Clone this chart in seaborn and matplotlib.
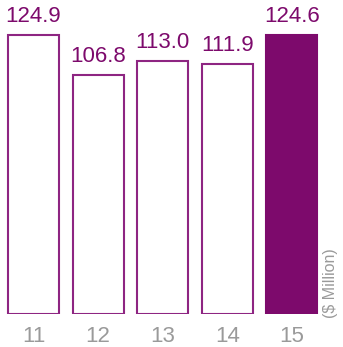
import matplotlib
matplotlib.use("Agg")
import matplotlib.pyplot as plt
import seaborn as sns
import pandas as pd

years = ["11", "12", "13", "14", "15"]
values = [124.9, 106.8, 113.0, 111.9, 124.6]
labels = ["124.9", "106.8", "113.0", "111.9", "124.6"]

sns.set_theme(style="white")
plt.rcParams['font.family'] = ['Liberation Sans Narrow', 'Liberation Sans', 'DejaVu Sans']

purple = "#7D0A6C"
edge = "#8E2582"
gray = "#9A9A9A"

df = pd.DataFrame({"year": years, "value": values})

fig = plt.figure(figsize=(3.43, 3.47), dpi=100)
ax = fig.add_axes([1.25/343, 1-314/347, 323/343, 314/347])

sns.barplot(data=df, x="year", y="value", ax=ax, width=0.79,
            color="white", edgecolor=edge, linewidth=1.5, saturation=1)
patches = ax.patches
patches[-1].set_facecolor(purple)
patches[-1].set_edgecolor(purple)

for i, (v, t) in enumerate(zip(values, labels)):
    ax.text(i, v + 3.6, t, ha="center", va="bottom", color=purple, fontsize=16)

ax.set_xlim(-0.5, 4.5)
ax.set_ylim(0, 140.4)
ax.set_xlabel("")
ax.set_ylabel("")
ax.set_yticks([])
for s in ax.spines.values():
    s.set_visible(False)
ax.tick_params(axis="x", length=0, colors=gray, labelsize=16, pad=9)

fig.text(331/343, 1-283/347, "($ Million)", rotation=90, ha="center", va="center",
         color=gray, fontsize=11.5)

fig.savefig("out.png", dpi=100, facecolor="white")
